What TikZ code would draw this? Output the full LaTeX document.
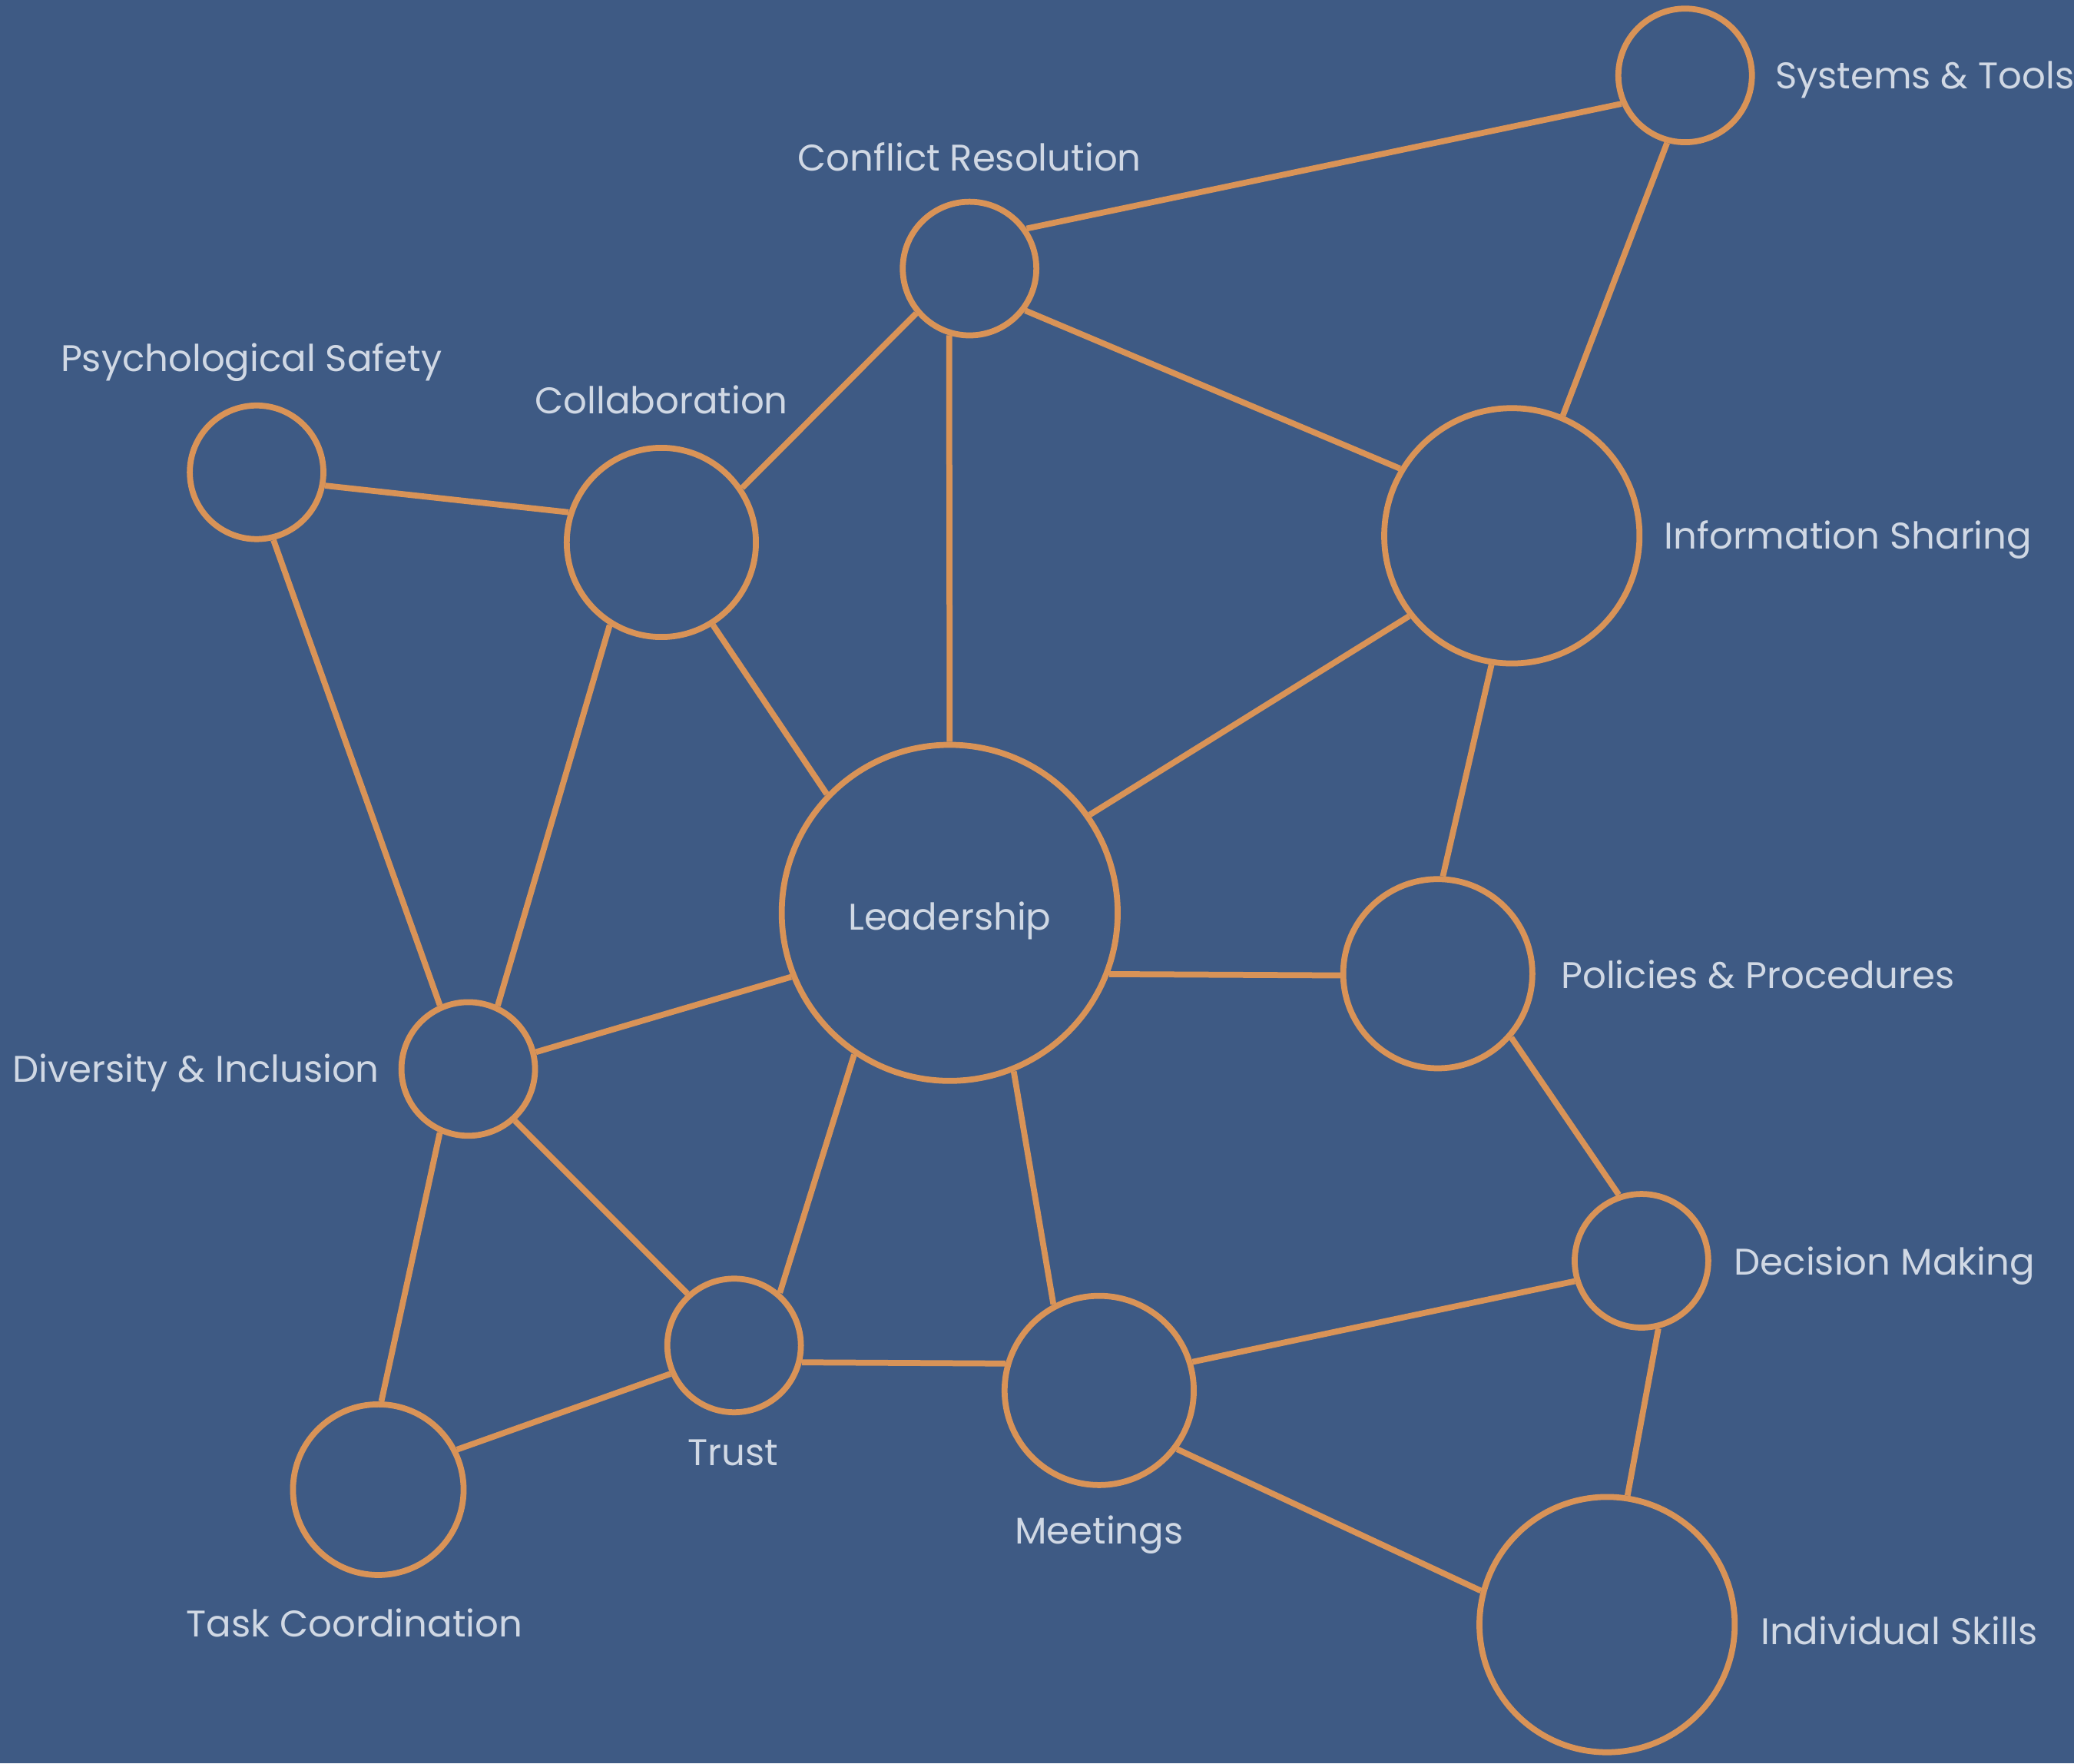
\documentclass[tikz,border=0pt]{standalone}
\usepackage{fontspec}
\setmainfont{Poppins}
\usetikzlibrary{positioning}
\definecolor{bgblue}{HTML}{3E5A84}
\definecolor{rope}{HTML}{D99357}
\definecolor{ink}{HTML}{D0D8E4}
\tikzset{
  topic/.style={circle, draw=rope, line width=4.5pt, inner sep=0pt},
  tag/.style={text=ink, inner sep=0pt, font=\fontsize{28}{32}\selectfont},
  link/.style={draw=rope, line width=4.5pt},
}

\begin{document}
\begin{tikzpicture}[x=1pt,y=-1pt]
  \fill[bgblue] (0,0) rectangle (1568,1333);
  \useasboundingbox (0,0) rectangle (1568,1333);

  % circles
  \node[topic, minimum size=101pt] (ST) at (1274,57) {};
  \node[topic, minimum size=101pt] (CR) at (733,203) {};
  \node[topic, minimum size=101pt] (PS) at (194,357) {};
  \node[topic, minimum size=143pt] (CO) at (500,410) {};
  \node[topic, minimum size=193pt] (IS) at (1143,405) {};
  \node[topic, minimum size=254pt] (LE) at (718,690) {};
  \node[topic, minimum size=143pt] (PP) at (1087,736) {};
  \node[topic, minimum size=101pt] (DI) at (354,808) {};
  \node[topic, minimum size=101pt] (DM) at (1241,953) {};
  \node[topic, minimum size=101pt] (TR) at (555,1017) {};
  \node[topic, minimum size=143pt] (ME) at (831,1051) {};
  \node[topic, minimum size=129pt] (TC) at (286,1126) {};
  \node[topic, minimum size=193pt] (IN) at (1215,1228) {};

  % labels
  \node[tag, anchor=base west] (stT) at (1342,67) {Systems \& Tools};
  \node[tag, anchor=base] (crT) at (733,129) {Conflict Resolution};
  \node[tag, anchor=base] (psT) at (190,281) {Psychological Safety};
  \node[tag, anchor=base] (coT) at (500,313) {Collaboration};
  \node[tag, anchor=base west] (isT) at (1258,415) {Information Sharing};
  \node[tag, anchor=base] (leT) at (718,703) {Leadership};
  \node[tag, anchor=base west] (ppT) at (1180,747) {Policies \& Procedures};
  \node[tag, anchor=base east] (diT) at (287,818) {Diversity \& Inclusion};
  \node[tag, anchor=base west] (dmT) at (1311,964) {Decision Making};
  \node[tag, anchor=base] (trT) at (554,1108) {Trust};
  \node[tag, anchor=base] (meT) at (831,1167) {Meetings};
  \node[tag, anchor=base] (tcT) at (268,1237) {Task Coordination};
  \node[tag, anchor=base west] (inT) at (1331,1243) {Individual Skills};

  % links
  \draw[link] (ST.204) -- (CR.35);
  \draw[link] (ST.255) -- (IS.67);
  \draw[link] (CR.220) -- (CO.34);
  \draw[link] (CR.253) -- (LE.90.4);
  \draw[link] (CR.-37) -- (IS.149);
  \draw[link] (PS.-11) -- (CO.162.5);
  \draw[link] (PS.-76) -- (DI.114.6);
  \draw[link] (CO.-58) -- (LE.136);
  \draw[link] (CO.238) -- (DI.65);
  \draw[link] (IS.218) -- (LE.35.7);
  \draw[link] (IS.261) -- (PP.87);
  \draw[link] (LE.-21.8) -- (PP.181.5);
  \draw[link] (LE.202.6) -- (DI.14.8);
  \draw[link] (LE.236) -- (TR.49.6);
  \draw[link] (LE.-68.5) -- (ME.118.7);
  \draw[link] (DI.-48.8) -- (TR.132);
  \draw[link] (DI.246) -- (TC.88.3);
  \draw[link] (TR.204) -- (TC.27);
  \draw[link] (TR.-14) -- (ME.164);
  \draw[link] (PP.-41.8) -- (DM.109.8);
  \draw[link] (ME.17.2) -- (DM.197);
  \draw[link] (ME.-37.5) -- (IN.165.5);
  \draw[link] (DM.-76.2) -- (IN.81.9);
\end{tikzpicture}
\end{document}
